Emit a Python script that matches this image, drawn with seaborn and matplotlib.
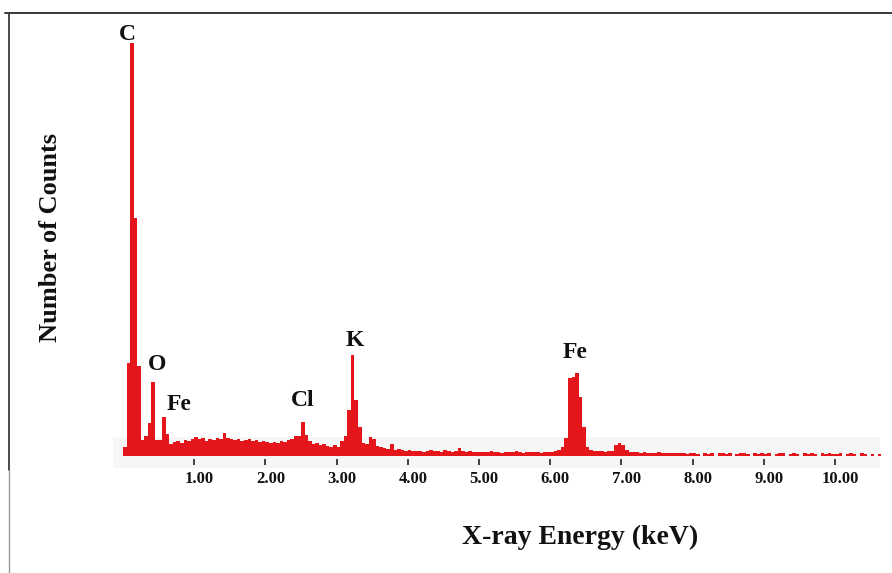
import numpy as np
import pandas as pd
import matplotlib
matplotlib.use("Agg")
import matplotlib.pyplot as plt
from matplotlib.lines import Line2D
from matplotlib.patches import Rectangle
from matplotlib.transforms import ScaledTranslation
import seaborn as sns

# EDS spectrum: counts per 0.05 keV channel, starting at 0 keV
channel_width = 0.05
counts = [
    # 0-1 keV
    90, 930, 4130, 2380, 900, 160, 200, 330, 740, 160,
    160, 390, 220, 120, 140, 150, 130, 160, 150, 170,
    # 1-2 keV
    190, 170, 180, 150, 170, 160, 180, 170, 230, 180,
    170, 160, 170, 150, 160, 170, 150, 160, 140, 150,
    # 2-3 keV
    140, 130, 140, 130, 150, 140, 160, 170, 200, 200,
    340, 210, 150, 120, 130, 110, 120, 100, 90, 110,
    # 3-4 keV
    90, 150, 200, 460, 1010, 560, 290, 130, 120, 190,
    170, 100, 90, 80, 70, 120, 60, 70, 60, 50,
    # 4-5 keV
    60, 50, 55, 50, 45, 50, 60, 55, 50, 45,
    60, 50, 45, 50, 80, 50, 45, 50, 40, 45,
    # 5-6 keV
    40, 45, 40, 50, 40, 45, 35, 40, 45, 40,
    50, 40, 35, 45, 40, 45, 40, 35, 40, 45,
    # 6-7 keV
    45, 50, 60, 90, 180, 780, 790, 830, 590, 290,
    90, 60, 55, 50, 50, 45, 50, 55, 110, 130,
    # 7-8 keV
    110, 60, 40, 45, 40, 35, 40, 35, 30, 35,
    40, 30, 35, 30, 35, 30, 35, 30, 25, 30,
    # 8-9 keV
    30, 25, 0, 30, 25, 30, 0, 30, 30, 25,
    30, 0, 25, 30, 30, 25, 0, 30, 25, 30,
    # 9-10 keV
    25, 30, 0, 25, 30, 30, 0, 25, 30, 25,
    0, 30, 25, 30, 25, 0, 30, 25, 30, 25,
    # 10-10.65 keV
    25, 30, 0, 25, 30, 25, 0, 30, 25, 0,
    25, 0, 25,
]

# Element lines and where their labels sit (keV, counts)
peak_names = ["C", "O", "Fe", "Cl", "K", "Fe"]
peak_label_energy = [0.06, 0.48, 0.79, 2.53, 3.26, 6.35]
peak_label_counts = [4220, 910, 520, 550, 1160, 1040]

tick_values = [1, 2, 3, 4, 5, 6, 7, 8, 9, 10]
tick_labels = ["1.00", "2.00", "3.00", "4.00", "5.00",
               "6.00", "7.00", "8.00", "9.00", "10.00"]

n = len(counts)
spectrum = pd.DataFrame({
    "energy": np.arange(n) * channel_width + channel_width / 2,
    "counts": counts,
})
edges = [i * channel_width for i in range(n + 1)]

sns.set_style("white")
plt.rcParams["font.family"] = ["Liberation Serif", "DejaVu Serif"]

W, H = 892, 573
fig = plt.figure(figsize=(W / 100, H / 100), dpi=100)
fig.patch.set_facecolor("white")
ax = fig.add_axes([8 / W, (H - 459) / H, 1 - 8 / W, (459 - 13) / H])
ax.set_facecolor("none")

# faint grey strip behind the low-count region
ax.add_patch(Rectangle((-0.14, -120), 10.77, 310, facecolor="#f6f6f6",
                       edgecolor="none", zorder=0, clip_on=False))

sns.histplot(data=spectrum, x="energy", weights="counts", bins=edges,
             element="step", fill=True, color="#e5161b", alpha=1,
             linewidth=0, ax=ax, zorder=2)

ax.set_xlim(-1.615, 10.80)
ax.set_ylim(-30, 4430)
for s in ax.spines.values():
    s.set_visible(False)

ax.set_yticks([])
ax.set_ylabel("")
ax.set_xlabel("")
ax.set_xticks(tick_values)
ax.set_xticklabels(tick_labels, fontsize=12, fontweight="bold",
                   color="#111111")
ax.tick_params(axis="x", direction="out", length=4.5, width=1.2,
               color="#222222", pad=4, bottom=True)
offset = ScaledTranslation(5 / 100, 0, fig.dpi_scale_trans)
for lab in ax.get_xticklabels():
    lab.set_transform(lab.get_transform() + offset)

for name, e, c in zip(peak_names, peak_label_energy, peak_label_counts):
    ax.text(e, c, name, ha="center", va="center", fontsize=17,
            fontweight="bold", color="#111111", zorder=3)

fig.text(51 / W, 1 - 237 / H, "Number of Counts", rotation=90,
         ha="center", va="center", fontsize=19, fontweight="bold",
         color="#111111")
fig.text(580 / W, 1 - 537 / H, "X-ray Energy (keV)", ha="center",
         va="center", fontsize=20, fontweight="bold", color="#111111")

# frame lines on top and left
fig.add_artist(Line2D([5 / W, 1.0], [1 - 13 / H, 1 - 13 / H],
                      color="#2a2a2a", linewidth=1.3))
fig.add_artist(Line2D([9 / W, 9 / W], [1 - 13 / H, 1 - 470 / H],
                      color="#3a3a3a", linewidth=1.3))
fig.add_artist(Line2D([9 / W, 9 / W], [1 - 470 / H, 0.0],
                      color="#9a9a9a", linewidth=1.0))

fig.savefig("out.png", dpi=100)
